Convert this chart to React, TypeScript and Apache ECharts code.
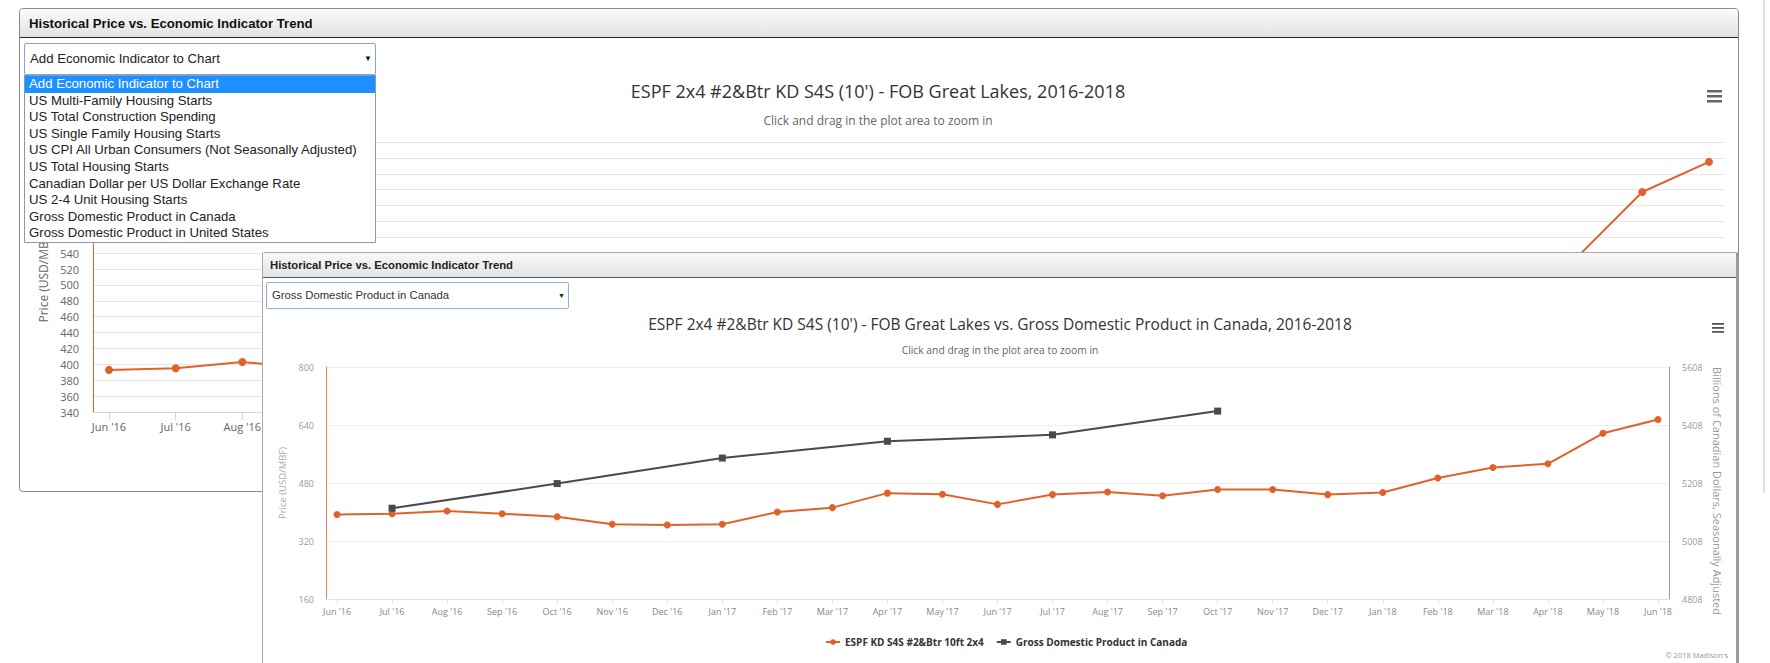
import React, { useEffect, useRef } from "react";
import * as echarts from "echarts";

// ---------- data ----------
const months = [
  "Jun '16", "Jul '16", "Aug '16", "Sep '16", "Oct '16", "Nov '16", "Dec '16",
  "Jan '17", "Feb '17", "Mar '17", "Apr '17", "May '17", "Jun '17", "Jul '17",
  "Aug '17", "Sep '17", "Oct '17", "Nov '17", "Dec '17", "Jan '18", "Feb '18",
  "Mar '18", "Apr '18", "May '18", "Jun '18",
];
const priceValues = [
  393, 395, 403, 395, 387, 366, 364, 366, 400, 412, 452, 449, 421, 448, 455,
  445, 462, 462, 448, 454, 494, 523, 533, 617, 655,
];
const gdpMonths = ["Jul '16", "Oct '16", "Jan '17", "Apr '17", "Jul '17", "Oct '17"];
const gdpValues = [5121, 5206, 5294, 5352, 5374, 5456];
const rightAxisTicks = [4808, 5008, 5208, 5408, 5608];
const indicatorOptions = [
  "Add Economic Indicator to Chart",
  "US Multi-Family Housing Starts",
  "US Total Construction Spending",
  "US Single Family Housing Starts",
  "US CPI All Urban Consumers (Not Seasonally Adjusted)",
  "US Total Housing Starts",
  "Canadian Dollar per US Dollar Exchange Rate",
  "US 2-4 Unit Housing Starts",
  "Gross Domestic Product in Canada",
  "Gross Domestic Product in United States",
];
const panelTitle = "Historical Price vs. Economic Indicator Trend";
const backTitle = "ESPF 2x4 #2&Btr KD S4S (10') - FOB Great Lakes, 2016-2018";
const frontTitle =
  "ESPF 2x4 #2&Btr KD S4S (10') - FOB Great Lakes vs. Gross Domestic Product in Canada, 2016-2018";
const subTitle = "Click and drag in the plot area to zoom in";
const priceSeriesName = "ESPF KD S4S #2&Btr 10ft 2x4";
const gdpSeriesName = "Gross Domestic Product in Canada";
const leftAxisName = "Price (USD/MBF)";
const rightAxisName = "Billions of Canadian Dollars, Seasonally Adjusted";
const copyright = "\u00a9 2018 Madison's";

// parts of the back chart that the overlapping panels hide
const backVisibleMonthCount = 3;
const backVisibleMaxPrice = 540;

const ORANGE = "#e0622a";
const GREY_SERIES = "#4a4a4e";
const FONT = "'Open Sans', 'DejaVu Sans', sans-serif";
const HTML_FONT = "'Liberation Sans', Arial, sans-serif";

const idx = months.map((_, i) => i);
const priceData = priceValues.map((v, i) => [i, v]);
const gdpData = gdpMonths.map((m, i) => [months.indexOf(m), gdpValues[i]]);

function hamburger(x: number, ys: number[], w: number, h: number, color: string) {
  return ys.map((y) => ({
    type: "rect",
    shape: { x, y, width: w, height: h },
    style: { fill: color },
    silent: true,
  }));
}

function backOption(): any {
  return {
    animation: false,
    textStyle: { fontFamily: FONT },
    grid: { left: 93, right: 46, top: 142, bottom: 251, containLabel: false },
    xAxis: {
      type: "value",
      min: -0.24,
      max: 24.225,
      axisLine: { show: true, onZero: false, lineStyle: { color: "#ccd6eb", width: 1 } },
      axisTick: { show: true, customValues: idx, length: 8, lineStyle: { color: "#ccd6eb" } },
      axisLabel: {
        customValues: idx.slice(0, backVisibleMonthCount),
        formatter: (v: number) => months[v] ?? "",
        color: "#666",
        fontSize: 11,
        fontFamily: FONT,
        margin: 9,
      },
      splitLine: { show: false },
    },
    yAxis: {
      type: "value",
      min: 340,
      max: 680,
      interval: 20,
      axisLine: { show: true, onZero: false, lineStyle: { color: ORANGE, width: 1 } },
      axisTick: { show: false },
      axisLabel: {
        color: "#666",
        fontSize: 11,
        fontFamily: FONT,
        margin: 14,
        formatter: (v: number) => (v <= backVisibleMaxPrice ? String(v) : ""),
      },
      splitLine: { lineStyle: { color: "#e6e6e6", width: 1 } },
      name: leftAxisName,
      nameLocation: "middle",
      nameGap: 43,
      nameTextStyle: { color: "#666", fontSize: 12, fontFamily: FONT },
    },
    series: [
      {
        type: "line",
        name: priceSeriesName,
        data: priceData,
        color: ORANGE,
        lineStyle: { width: 2, color: ORANGE },
        itemStyle: { color: ORANGE },
        symbol: "circle",
        symbolSize: 8,
        showSymbol: true,
      },
    ],
    graphic: [
      {
        type: "text",
        x: 878,
        y: 91,
        style: {
          text: backTitle,
          fill: "#333",
          fontSize: 18,
          fontFamily: FONT,
          align: "center",
          verticalAlign: "middle",
        },
      },
      {
        type: "text",
        x: 878,
        y: 120,
        style: {
          text: subTitle,
          fill: "#666",
          fontSize: 12,
          fontFamily: FONT,
          align: "center",
          verticalAlign: "middle",
        },
      },
      ...hamburger(1707, [90, 95, 100], 15, 2.5, "#666"),
    ],
  };
}

function frontOption(): any {
  return {
    animation: false,
    textStyle: { fontFamily: FONT },
    grid: { left: 326, right: 101, top: 367, bottom: 64, containLabel: false },
    legend: {
      left: 820,
      top: 632,
      itemGap: 12,
      itemWidth: 14,
      itemHeight: 7,
      textStyle: { color: "#333", fontSize: 10, fontWeight: "bold", fontFamily: FONT },
      data: [priceSeriesName, gdpSeriesName],
    },
    xAxis: {
      type: "value",
      min: -0.2,
      max: 24.2,
      axisLine: { show: true, onZero: false, lineStyle: { color: "#dfe4ee", width: 1 } },
      axisTick: { show: true, customValues: idx, length: 5, lineStyle: { color: "#dfe4ee" } },
      axisLabel: {
        customValues: idx,
        formatter: (v: number) => months[v] ?? "",
        color: "#888",
        fontSize: 9,
        fontFamily: FONT,
        margin: 8,
      },
      splitLine: { show: false },
    },
    yAxis: [
      {
        type: "value",
        min: 160,
        max: 800,
        interval: 160,
        axisLine: { show: true, onZero: false, lineStyle: { color: "#e9885c", width: 1 } },
        axisTick: { show: false },
        axisLabel: { color: "#999", fontSize: 9, fontFamily: FONT, margin: 12 },
        splitLine: { lineStyle: { color: "#eeeeee", width: 1 } },
        name: leftAxisName,
        nameLocation: "middle",
        nameGap: 36,
        nameTextStyle: { color: "#aaa", fontSize: 9.5, fontFamily: FONT },
      },
      {
        type: "value",
        min: 4808,
        max: 5608,
        position: "right",
        axisLine: { show: true, onZero: false, lineStyle: { color: "#999", width: 1 } },
        axisTick: { show: false },
        axisLabel: {
          customValues: rightAxisTicks,
          formatter: (v: number) => String(v),
          color: "#999",
          fontSize: 9,
          fontFamily: FONT,
          margin: 13,
        },
        splitLine: { show: false },
      },
    ],
    series: [
      {
        type: "line",
        name: priceSeriesName,
        data: priceData,
        yAxisIndex: 0,
        color: ORANGE,
        lineStyle: { width: 2, color: ORANGE },
        itemStyle: { color: ORANGE },
        symbol: "circle",
        symbolSize: 7,
        showSymbol: true,
      },
      {
        type: "line",
        name: gdpSeriesName,
        data: gdpData,
        yAxisIndex: 1,
        color: GREY_SERIES,
        lineStyle: { width: 2, color: GREY_SERIES },
        itemStyle: { color: GREY_SERIES },
        symbol: "rect",
        symbolSize: 7,
        showSymbol: true,
      },
    ],
    graphic: [
      {
        type: "text",
        x: 1000,
        y: 324,
        style: {
          text: frontTitle,
          fill: "#333",
          fontSize: 15.5,
          fontFamily: FONT,
          align: "center",
          verticalAlign: "middle",
        },
      },
      {
        type: "text",
        x: 1000,
        y: 350,
        style: {
          text: subTitle,
          fill: "#666",
          fontSize: 10.3,
          fontFamily: FONT,
          align: "center",
          verticalAlign: "middle",
        },
      },
      {
        type: "text",
        x: 1717,
        y: 491,
        rotation: -Math.PI / 2,
        style: {
          text: rightAxisName,
          fill: "#999",
          fontSize: 11,
          fontFamily: FONT,
          align: "center",
          verticalAlign: "middle",
        },
      },
      ...hamburger(1712, [323, 327, 331], 12, 1.8, "#555"),
      {
        type: "text",
        x: 1728,
        y: 655,
        style: {
          text: copyright,
          fill: "#999",
          fontSize: 7.5,
          fontFamily: FONT,
          align: "right",
          verticalAlign: "middle",
        },
      },
    ],
  };
}

const abs = (l: number, t: number, w: number, h: number): React.CSSProperties => ({
  position: "absolute",
  left: l,
  top: t,
  width: w,
  height: h,
  boxSizing: "border-box",
});

export default function App() {
  const backRef = useRef<HTMLDivElement>(null);
  const frontRef = useRef<HTMLDivElement>(null);

  useEffect(() => {
    const back = echarts.init(backRef.current!, undefined, { renderer: "svg" });
    back.setOption(backOption());
    const front = echarts.init(frontRef.current!, undefined, { renderer: "svg" });
    front.setOption(frontOption());
    return () => {
      back.dispose();
      front.dispose();
    };
  }, []);

  return (
    <div
      style={{
        position: "absolute",
        left: 0,
        top: 0,
        width: 1770,
        height: 663,
        overflow: "hidden",
        background: "#fff",
        fontFamily: HTML_FONT,
      }}
    >
      {/* far-right scrollbar edge */}
      <div style={{ ...abs(1763, 0, 2, 493), background: "#e2e2e2" }} />

      {/* back panel */}
      <div
        style={{
          ...abs(19, 8, 1720, 484),
          border: "1px solid #8a8a8a",
          borderRadius: 4,
          background: "#fff",
        }}
      >
        <div
          style={{
            height: 29,
            boxSizing: "border-box",
            background: "linear-gradient(#fbfbfb, #e2e2e2)",
            borderBottom: "1px solid #222",
            borderTopLeftRadius: 4,
            borderTopRightRadius: 4,
            paddingLeft: 9,
            lineHeight: "29px",
            fontWeight: "bold",
            fontSize: 13.2,
            color: "#111",
          }}
        >
          {panelTitle}
        </div>
      </div>

      {/* back chart */}
      <div ref={backRef} style={{ ...abs(0, 0, 1770, 663) }} />

      {/* back dropdown (open) */}
      <div
        style={{
          ...abs(24, 43, 352, 32),
          border: "1px solid #7fa6de",
          borderRadius: 2,
          background: "#fff",
          fontSize: 13.2,
          color: "#222",
          lineHeight: "30px",
          paddingLeft: 5,
        }}
      >
        {indicatorOptions[0]}
        <span style={{ position: "absolute", left: 339, top: 0, fontSize: 8, color: "#111" }}>
          {"\u25bc"}
        </span>
      </div>
      <div
        style={{
          ...abs(24, 75, 352, 168),
          border: "1px solid #7f9db9",
          background: "#fff",
        }}
      >
        {indicatorOptions.map((o, i) => (
          <div
            key={o}
            style={{
              height: 16.6,
              lineHeight: "16.6px",
              fontSize: 13.2,
              paddingLeft: 4,
              background: i === 0 ? "#1e90ff" : "#fff",
              color: i === 0 ? "#fff" : "#222",
              whiteSpace: "nowrap",
            }}
          >
            {o}
          </div>
        ))}
      </div>

      {/* front panel */}
      <div
        style={{
          ...abs(262, 252, 1477, 430),
          border: "1px solid #aaa",
          borderRight: "3px solid #999",
          borderRadius: 3,
          background: "#fff",
        }}
      >
        <div
          style={{
            height: 25,
            boxSizing: "border-box",
            background: "linear-gradient(#f8f8f8, #e4e4e4)",
            borderBottom: "1px solid #555",
            paddingLeft: 7,
            lineHeight: "25px",
            fontWeight: "bold",
            fontSize: 11.3,
            color: "#222",
          }}
        >
          {panelTitle}
        </div>
      </div>

      {/* front chart */}
      <div ref={frontRef} style={{ ...abs(0, 0, 1770, 663) }} />

      {/* front dropdown */}
      <div
        style={{
          ...abs(266, 282, 303, 27),
          border: "1px solid #8fb2e0",
          borderRadius: 2,
          background: "#fff",
          fontSize: 11.3,
          color: "#333",
          lineHeight: "25px",
          paddingLeft: 5,
        }}
      >
        {gdpSeriesName}
        <span style={{ position: "absolute", left: 291, top: 0, fontSize: 7, color: "#222" }}>
          {"\u25bc"}
        </span>
      </div>
    </div>
  );
}
